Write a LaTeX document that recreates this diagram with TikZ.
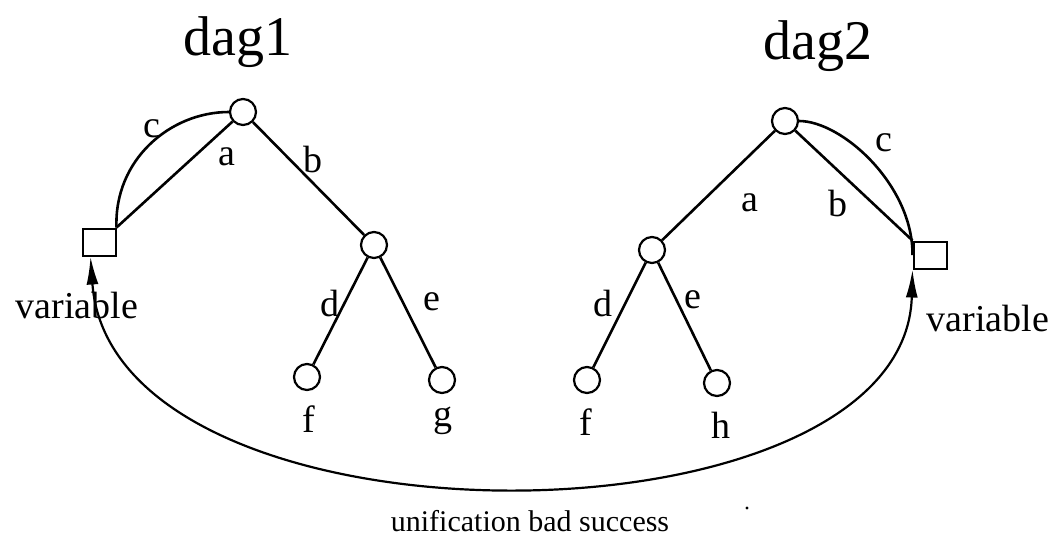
\documentclass[tikz,border=0pt]{standalone}
\usepackage{fontspec}
\setmainfont{Liberation Serif}
\usetikzlibrary{arrows.meta}
\begin{document}
\begin{tikzpicture}[x=1pt,y=-1pt,
  vert/.style={circle,draw,line width=2.2pt,minimum size=26pt,inner sep=0pt},
  varbox/.style={rectangle,draw,line width=2pt,minimum width=33pt,minimum height=27pt,inner sep=0pt},
  edge/.style={line width=2.6pt},
  lbl/.style={font=\fontsize{38}{38}\selectfont,inner sep=0pt},
  ttl/.style={font=\fontsize{56}{56}\selectfont,inner sep=0pt}]
\useasboundingbox (0,0) rectangle (1062,544);
% titles
\node[ttl] (t1) at (238,42) {dag1};
\node[ttl] (t2) at (818,46) {dag2};
% dag1
\node[vert] (r1) at (243,112) {};
\node[varbox] (v1) at (99,242) {};
\node[vert] (n1) at (374,245) {};
\node[vert] (f1) at (307,377) {};
\node[vert] (g1) at (442,380) {};
\draw[edge] (v1.north east) -- (r1);
\draw[edge] (r1) -- (n1);
\draw[edge] (n1) -- (f1);
\draw[edge] (n1) -- (g1);
\draw[edge] (v1.north east) .. controls (114,160) and (170,112) .. (r1.west);
\node[lbl] (lc1) at (152,129) {c};
\node[lbl] (la1) at (227,157) {a};
\node[lbl] (lb1) at (313,159) {b};
\node[lbl] (ld1) at (330,303) {d};
\node[lbl] (le1) at (432,302) {e};
\node[lbl] (lf1) at (309,419) {f};
\node[lbl] (lg1) at (443,421) {g};
\node[lbl] (var1) at (77,305) {variable};
% dag2
\node[vert] (r2) at (785,121) {};
\node[vert] (n2) at (652,250) {};
\node[varbox] (v2) at (930,255) {};
\node[vert] (f2) at (587,380) {};
\node[vert] (h2) at (717,383) {};
\draw[edge] (r2) -- (n2);
\draw[edge] (r2) -- (v2.north west);
\draw[edge] (n2) -- (f2);
\draw[edge] (n2) -- (h2);
\draw[edge] (r2.east) .. controls (842,121) and (913,185) .. (v2.west);
\node[lbl] (lc2) at (884,143) {c};
\node[lbl] (la2) at (750,203) {a};
\node[lbl] (lb2) at (838,203) {b};
\node[lbl] (ld2) at (603,303) {d};
\node[lbl] (le2) at (693,300) {e};
\node[lbl] (lf2) at (586,422) {f};
\node[lbl] (lh2) at (721,425) {h};
\node[lbl] (var2) at (988,318) {variable};
% bottom arc
\coordinate (s1) at ([xshift=9pt]v1.south west);
\coordinate (s2) at (v2.south west);
\draw[line width=2.2pt,{Latex[length=28pt,width=12pt]}-{Latex[length=28pt,width=12pt]}] (s1) .. controls (112,560) and (905,555) .. (s2);
\node[font=\fontsize{30}{30}\selectfont,inner sep=0pt] (cap) at (530,521) {unification bad success};
\fill (747,508) circle (1.6pt);
\end{tikzpicture}
\end{document}
